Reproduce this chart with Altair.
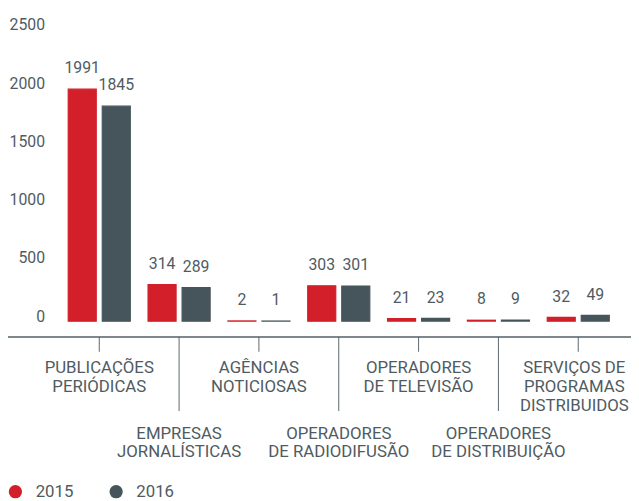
import altair as alt
import pandas as pd

categories = [
    "PUBLICAÇÕES\nPERIÓDICAS",
    "EMPRESAS\nJORNALÍSTICAS",
    "AGÊNCIAS\nNOTICIOSAS",
    "OPERADORES\nDE RADIODIFUSÃO",
    "OPERADORES\nDE TELEVISÃO",
    "OPERADORES\nDE DISTRIBUIÇÃO",
    "SERVIÇOS DE\nPROGRAMAS\nDISTRIBUIDOS",
]
label_level = ["upper", "lower", "upper", "lower", "upper", "lower", "upper"]
years = ["2015", "2016"]
values_2015 = [1991, 314, 2, 303, 21, 8, 32]
values_2016 = [1845, 289, 1, 301, 23, 9, 49]
y_ticks = [0, 500, 1000, 1500, 2000, 2500]

RED = "#d31f29"
GREY = "#46555c"
TEXT = "#4f5b62"
FONT = "Roboto"

rows = []
for c, a, b in zip(categories, values_2015, values_2016):
    rows.append({"cat": c, "year": "2015", "value": a})
    rows.append({"cat": c, "year": "2016", "value": b})
df = pd.DataFrame(rows)
cats = pd.DataFrame({"cat": categories, "level": label_level})

W, H = 566, 295
PL, PR = 52, 13

xenc = alt.X("cat:N", sort=categories, axis=None,
             scale=alt.Scale(paddingInner=0, paddingOuter=0))
xoff = alt.XOffset("year:N", sort=years,
                   scale=alt.Scale(paddingInner=0.1765, paddingOuter=0.261))
yenc = alt.Y("value:Q", scale=alt.Scale(domain=[0, 2500], nice=False),
             axis=alt.Axis(values=y_ticks, format="d", domain=False, ticks=False,
                           grid=False, labelPadding=15, labelBaseline="alphabetic",
                           labelFontSize=16, labelFont=FONT, labelColor=TEXT,
                           title=None))
cscale = alt.Scale(domain=years, range=[RED, GREY])

bars = alt.Chart(df).mark_bar(strokeWidth=1.2).encode(
    x=xenc, xOffset=xoff, y=yenc,
    color=alt.Color("year:N", scale=cscale, sort=years,
                    legend=alt.Legend(orient="none", legendX=-53, legendY=459,
                                      direction="horizontal", title=None,
                                      symbolType="circle", symbolSize=180,
                                      symbolStrokeWidth=0,
                                      labelFontSize=17, labelFont=FONT,
                                      labelColor=TEXT, labelOffset=12,
                                      columnPadding=34)),
    stroke=alt.Stroke("year:N", scale=cscale, sort=years, legend=None),
)

vlabels = alt.Chart(df).mark_text(baseline="alphabetic", dy=-16, fontSize=16,
                                  font=FONT, color=TEXT).encode(
    x=xenc, xOffset=xoff, y=alt.Y("value:Q"), text="value:Q"
)

axis_line = alt.Chart(cats).mark_rule(color="#7d888d", strokeWidth=1.2).encode(
    x=alt.value(-PL), x2=alt.value(W + PR), y=alt.value(311)
)

short_ticks = alt.Chart(cats).transform_filter(
    alt.datum.level == "upper"
).mark_rule(color="#5b666c", strokeWidth=1).encode(
    x=xenc, y=alt.value(311), y2=alt.value(326)
)
long_ticks = alt.Chart(cats).transform_filter(
    alt.datum.level == "lower"
).mark_rule(color="#5b666c", strokeWidth=1).encode(
    x=xenc, y=alt.value(311), y2=alt.value(386)
)

upper_labels = alt.Chart(cats).transform_filter(
    (alt.datum.level == "upper") & (alt.datum.cat != categories[-1])
).mark_text(baseline="alphabetic", lineBreak="\n", lineHeight=19, fontSize=17,
            font=FONT, color=TEXT).encode(
    x=xenc, y=alt.value(348), text="cat:N"
)
edge_label = alt.Chart(cats).transform_filter(
    alt.datum.cat == categories[-1]
).mark_text(baseline="alphabetic", lineBreak="\n", lineHeight=19, fontSize=17,
            font=FONT, color=TEXT, dx=-4).encode(
    x=xenc, y=alt.value(348), text="cat:N"
)
lower_labels = alt.Chart(cats).transform_filter(
    alt.datum.level == "lower"
).mark_text(baseline="alphabetic", lineBreak="\n", lineHeight=19, fontSize=17,
            font=FONT, color=TEXT).encode(
    x=xenc, y=alt.value(414), text="cat:N"
)

chart = alt.layer(
    bars, vlabels, axis_line, short_ticks, long_ticks,
    upper_labels, edge_label, lower_labels
).properties(
    width=W, height=H,
    autosize=alt.AutoSizeParams(type="none"),
    padding={"left": PL, "top": 19, "right": PR, "bottom": 179},
).configure_view(stroke=None)

chart.save("out.html", embed_options={"renderer": "svg", "actions": False})
